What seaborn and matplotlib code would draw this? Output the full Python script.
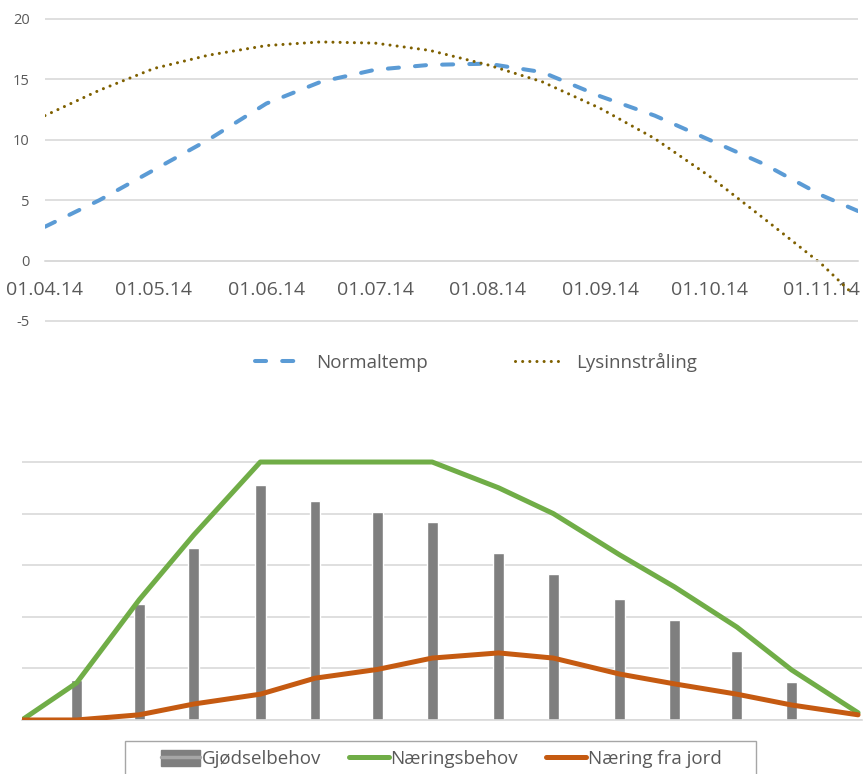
import matplotlib
matplotlib.use("Agg")
import matplotlib.pyplot as plt
import matplotlib.dates as mdates
import pandas as pd
import seaborn as sns
from matplotlib.lines import Line2D
from matplotlib.patches import Patch, Rectangle

# --- top chart: normal temperature and light ---------------------------------
temp_dates = ["2014-04-01", "2014-04-16", "2014-05-01", "2014-05-16", "2014-06-01",
              "2014-06-16", "2014-07-01", "2014-07-16", "2014-08-01", "2014-08-16",
              "2014-09-01", "2014-09-16", "2014-10-01", "2014-10-16", "2014-11-01",
              "2014-11-11"]
normaltemp = [2.8, 5.0, 7.5, 10.0, 13.0, 14.8, 15.8, 16.2, 16.3, 15.6,
              13.6, 12.0, 10.0, 8.0, 5.4, 4.1]
lys_dates = temp_dates[:-1] + ["2014-11-09"]
lysinnstraling = [12.0, 14.1, 15.9, 17.0, 17.8, 18.1, 18.0, 17.4, 16.2, 14.8,
                  12.6, 10.1, 7.0, 3.5, -0.3, -2.6]
top_ticks = ["2014-04-01", "2014-05-01", "2014-06-01", "2014-07-01",
             "2014-08-01", "2014-09-01", "2014-10-01", "2014-11-01"]

# --- bottom chart: nutrient need ----------------------------------------------
need_dates = ["2014-04-01", "2014-04-15", "2014-05-01", "2014-05-15", "2014-06-01",
              "2014-06-15", "2014-07-01", "2014-07-15", "2014-08-01", "2014-08-15",
              "2014-09-01", "2014-09-15", "2014-10-01", "2014-10-15", "2014-11-01"]
naeringsbehov = [0.0, 0.72, 2.33, 3.59, 5.0, 5.0, 5.0, 5.0, 4.5, 4.0,
                 3.2, 2.58, 1.8, 0.97, 0.14]
naering_jord = [0.0, 0.0, 0.1, 0.31, 0.5, 0.81, 0.98, 1.2, 1.3, 1.2,
                0.89, 0.70, 0.5, 0.29, 0.1]
gjodsel_dates = need_dates[1:-1]
gjodselbehov = [0.77, 2.25, 3.34, 4.55, 4.24, 4.03, 3.84, 3.24, 2.83, 2.34,
                1.94, 1.34, 0.74]

BLUE, BROWN = "#5B9BD5", "#7F6000"
GREEN, ORANGE, GREY = "#70AD47", "#C55A11", "#7F7F7F"
GRID, TXT = "#D9D9D9", "#595959"

sns.set_theme(style="white")
plt.rcParams["font.family"] = ["Open Sans", "DejaVu Sans"]
plt.rcParams["axes.unicode_minus"] = False

fig = plt.figure(figsize=(8.63, 7.74), dpi=100)

# top axes
ax1 = fig.add_axes([0.0521, 0.5822, 0.9421, 0.3964])
t1 = pd.DataFrame({"date": pd.to_datetime(temp_dates), "v": normaltemp})
t2 = pd.DataFrame({"date": pd.to_datetime(lys_dates), "v": lysinnstraling})
sns.lineplot(data=t1, x="date", y="v", ax=ax1, color=BLUE, linewidth=2.9,
             linestyle=(0, (2.75, 4.0)), dash_capstyle="round", label="Normaltemp")
sns.lineplot(data=t2, x="date", y="v", ax=ax1, color=BROWN, linewidth=2.2,
             linestyle=(0, (0.01, 2.33)), dash_capstyle="round", label="Lysinnstråling")
ax1.set_xlim(pd.Timestamp("2014-04-01"), pd.Timestamp("2014-11-11"))
ax1.set_ylim(-5.2, 20.2)
ax1.set_yticks([-5, 0, 5, 10, 15, 20])
ax1.set_xticks(pd.to_datetime(top_ticks))
ax1.xaxis.set_major_formatter(mdates.DateFormatter("%d.%m.%y"))
ax1.grid(axis="y", color=GRID, linewidth=1.2)
ax1.set_axisbelow(True)
for s in ["top", "right", "left"]:
    ax1.spines[s].set_visible(False)
ax1.spines["bottom"].set_position(("data", 0))
ax1.spines["bottom"].set_color(GRID)
ax1.spines["bottom"].set_linewidth(1.2)
ax1.tick_params(axis="x", direction="out", length=3.6, width=1.0, color=GRID,
                pad=11, labelsize=14, labelcolor=TXT)
ax1.tick_params(axis="y", length=0, pad=11, labelsize=10.5, labelcolor=TXT)
ax1.set_xlabel(""); ax1.set_ylabel("")
ax1.get_legend().remove()
h1, l1 = ax1.get_legend_handles_labels()
fig.legend(h1, l1, loc="center", bbox_to_anchor=(476 / 863, 1 - 362 / 774),
           ncol=2, frameon=False, fontsize=13.5, labelcolor=TXT,
           handlelength=2.6, handletextpad=0.7, columnspacing=4.6)

# bottom axes
ax2 = fig.add_axes([0.0255, 0.0698, 0.9733, 0.3466])
ax2.bar(pd.to_datetime(gjodsel_dates), gjodselbehov, width=2.8, color=GREY, zorder=2)
b1 = pd.DataFrame({"date": pd.to_datetime(need_dates), "v": naeringsbehov})
b2 = pd.DataFrame({"date": pd.to_datetime(need_dates), "v": naering_jord})
sns.lineplot(data=b1, x="date", y="v", ax=ax2, color=GREEN, linewidth=3.6, zorder=3)
sns.lineplot(data=b2, x="date", y="v", ax=ax2, color=ORANGE, linewidth=3.6, zorder=4)
ax2.set_xlim(pd.Timestamp("2014-04-01"), pd.Timestamp("2014-11-02"))
ax2.set_ylim(0, 5.2)
ax2.set_yticks([0, 1, 2, 3, 4, 5])
ax2.set_yticklabels([])
ax2.set_xticks(pd.to_datetime(top_ticks))
ax2.set_xticklabels([])
ax2.grid(axis="y", color=GRID, linewidth=1.2)
ax2.set_axisbelow(True)
for s in ["top", "right", "left"]:
    ax2.spines[s].set_visible(False)
ax2.spines["bottom"].set_color(GRID)
ax2.spines["bottom"].set_linewidth(1.2)
ax2.tick_params(axis="x", direction="out", length=3, width=1.0, color=GRID)
ax2.tick_params(axis="y", length=0)
ax2.set_xlabel(""); ax2.set_ylabel("")

# legend frame drawn by hand (Excel pads it wider than matplotlib does)
fig.add_artist(Rectangle((125 / 863, -0.01), (756 - 125) / 863, 0.01 + 33 / 774,
                         transform=fig.transFigure, fill=False,
                         edgecolor="#A6A6A6", linewidth=1.0))
h2 = [(Patch(facecolor=GREY, edgecolor=GREY),
       Line2D([], [], color="#A6A6A6", linewidth=2.5)),
      Line2D([], [], color=GREEN, linewidth=3.6),
      Line2D([], [], color=ORANGE, linewidth=3.6)]
fig.legend(h2, ["Gjødselbehov", "Næringsbehov", "Næring fra jord"],
           loc="center", bbox_to_anchor=(441 / 863, 1 - 759 / 774),
           ncol=3, frameon=False, fontsize=13.5, labelcolor=TXT,
           handlelength=2.1, handleheight=1.0, handletextpad=0.1,
           columnspacing=1.5, borderpad=0.0)

fig.savefig("out.png", dpi=100)
